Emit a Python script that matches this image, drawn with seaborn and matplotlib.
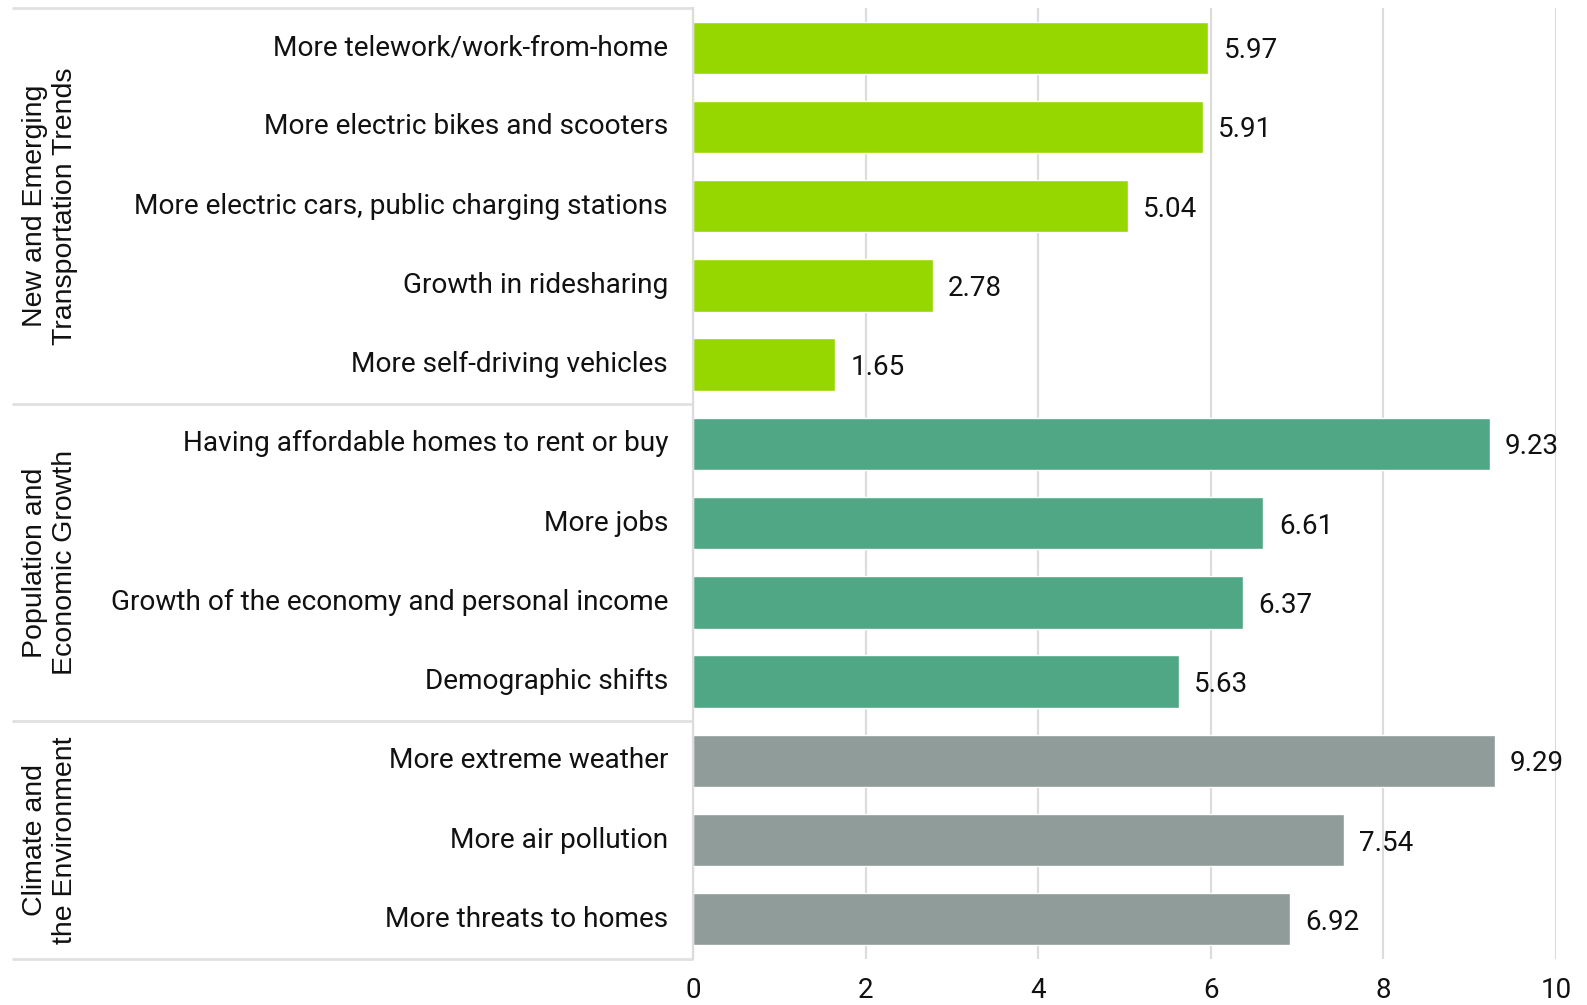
import matplotlib
matplotlib.use("Agg")
import matplotlib.pyplot as plt
import matplotlib.transforms as mtransforms
import pandas as pd
import seaborn as sns

# Survey items, their group and mean score
items = [
    "More telework/work-from-home",
    "More electric bikes and scooters",
    "More electric cars, public charging stations",
    "Growth in ridesharing",
    "More self-driving vehicles",
    "Having affordable homes to rent or buy",
    "More jobs",
    "Growth of the economy and personal income",
    "Demographic shifts",
    "More extreme weather",
    "More air pollution",
    "More threats to homes",
]
scores = [5.97, 5.91, 5.04, 2.78, 1.65, 9.23, 6.61, 6.37, 5.63, 9.29, 7.54, 6.92]
groups = ["transport"] * 5 + ["growth"] * 4 + ["climate"] * 3

group_keys = ["transport", "growth", "climate"]
group_titles = [
    "New and Emerging\nTransportation Trends",
    "Population and\nEconomic Growth",
    "Climate and\nthe Environment",
]
group_colors = ["#97D700", "#4FA785", "#8F9C9A"]
x_ticks = [0, 2, 4, 6, 8, 10]

df = pd.DataFrame({"item": items, "score": scores, "group": groups})

sns.set_style("white")
plt.rcParams["font.family"] = ["Roboto", "DejaVu Sans"]

fig = plt.figure(figsize=(15.87, 10.05), dpi=100)
ax = fig.add_axes([0.4367, 0.0458, 0.5438, 0.9462])

sns.barplot(
    data=df, x="score", y="item", hue="group", hue_order=group_keys,
    palette=dict(zip(group_keys, group_colors)), dodge=False, width=0.66,
    saturation=1, legend=False, ax=ax, orient="h",
)

n = len(items)
ax.set_ylim(n - 0.5, -0.5)
ax.set_xlim(0, 10)
ax.set_xticks(x_ticks)
ax.set_xticklabels([str(t) for t in x_ticks])
ax.set_xlabel("")
ax.set_ylabel("")

ax.xaxis.grid(True, color="#dcdcdc", linewidth=1.6)
ax.yaxis.grid(False)
ax.set_axisbelow(True)
for side in ["top", "right", "bottom"]:
    ax.spines[side].set_visible(False)
ax.spines["left"].set_color("#dcdcdc")
ax.spines["left"].set_linewidth(1.6)

ax.tick_params(axis="x", length=0, pad=13, labelsize=20, labelcolor="#111111")
ax.tick_params(axis="y", length=0, pad=18, labelsize=20.2, labelcolor="#111111")
for lbl in ax.get_yticklabels():
    lbl.set_verticalalignment("center")

# value labels at the end of each bar
for i, v in enumerate(scores):
    ax.annotate(f"{v:.2f}", xy=(v, i), xytext=(11, 0), textcoords="offset points",
                ha="left", va="center_baseline", fontsize=20, color="#111111")

# group separators and rotated group titles in the left margin
trans = mtransforms.blended_transform_factory(ax.transAxes, ax.transData)
bounds = [-0.5]
for key in group_keys:
    bounds.append(bounds[-1] + groups.count(key))
for yb in bounds:
    ax.plot([-0.789, 0], [yb, yb], transform=trans, color="#e0e0e0",
            linewidth=2, clip_on=False, solid_capstyle="butt")
for k, title in enumerate(group_titles):
    yc = (bounds[k] + bounds[k + 1]) / 2
    ax.text(-0.745, yc, title, transform=trans, rotation=90, ha="center",
            va="center", multialignment="center", fontsize=20.5,
            family=["Liberation Sans", "DejaVu Sans"], color="#111111",
            linespacing=1.2)

fig.savefig("out.png", dpi=100, facecolor="white")
